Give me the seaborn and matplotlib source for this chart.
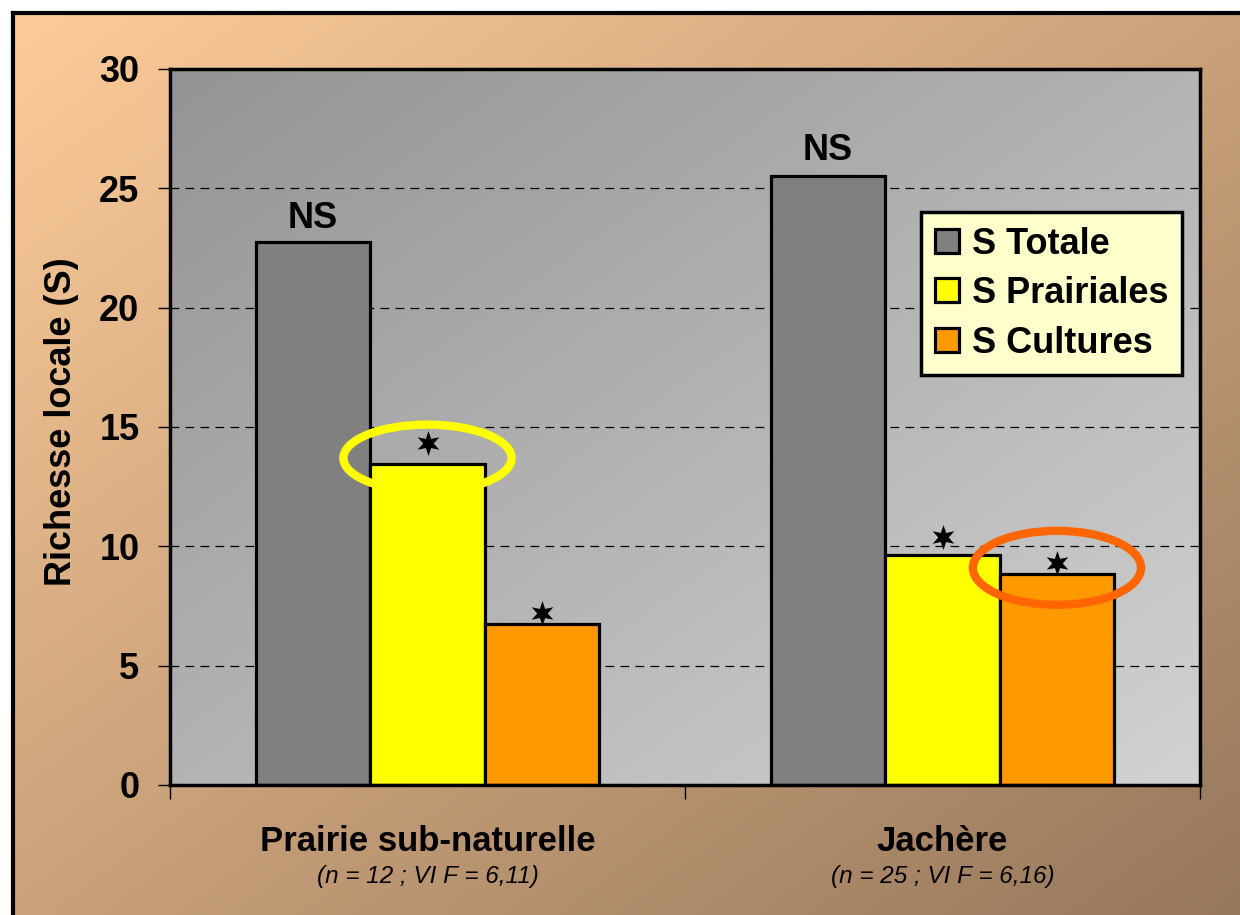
import numpy as np
import pandas as pd
import matplotlib.pyplot as plt
from matplotlib.patches import Ellipse
from matplotlib.path import Path
from matplotlib.transforms import blended_transform_factory, offset_copy
import seaborn as sns

sns.set_theme(style="white")
plt.rcParams['font.family'] = ['Liberation Sans', 'DejaVu Sans']
plt.rcParams['text.color'] = 'black'
plt.rcParams['axes.labelcolor'] = 'black'
plt.rcParams['xtick.color'] = 'black'
plt.rcParams['ytick.color'] = 'black'

# values
groups = ["Prairie sub-naturelle", "Jachère"]
group_notes = ["(n = 12 ; VI F = 6,11)", "(n = 25 ; VI F = 6,16)"]
series = ["S Totale", "S Prairiales", "S Cultures"]
s_totale = [22.75, 25.5]
s_prairiales = [13.45, 9.65]
s_cultures = [6.75, 8.85]
# significance marks above each bar ("*" = significant)
sig_totale = ["NS", "NS"]
sig_prairiales = ["*", "*"]
sig_cultures = ["*", "*"]
yticks = [0, 5, 10, 15, 20, 25, 30]

df = pd.DataFrame({
    "groupe": groups * 3,
    "serie": [s for s in series for _ in groups],
    "S": s_totale + s_prairiales + s_cultures,
})
sigs = [sig_totale, sig_prairiales, sig_cultures]

palette = {"S Totale": "#808080", "S Prairiales": "#FFFF00", "S Cultures": "#FF9900"}
# circled bars: (group index, serie, colour, ellipse height)
highlights = [(0, "S Prairiales", "#FFFF00", 2.8), (1, "S Cultures", "#FF6600", 3.1)]
# vertical offset (points) of the marks above each bar, per serie then group
mark_offsets = [[4, 6], [15, 13], [8, 8]]

# six pointed star with thin points
ang = np.pi / 2 + np.arange(12) * np.pi / 6
rad = np.where(np.arange(12) % 2 == 0, 1.0, 0.42)
star_verts = np.column_stack([rad * np.cos(ang), rad * np.sin(ang)])
star = Path(np.vstack([star_verts, star_verts[:1]]), closed=True)


def gradient(ax, c0, c1, zorder=0):
    n = 256
    xx, yy = np.meshgrid(np.linspace(0, 1, n), np.linspace(0, 1, n))
    t = (xx + yy) / 2
    c0 = np.array(c0) / 255
    c1 = np.array(c1) / 255
    img = c0 + (c1 - c0) * t[..., None]
    ax.imshow(img, extent=[0, 1, 0, 1], aspect='auto', origin='upper',
              transform=ax.transAxes, zorder=zorder, interpolation='bilinear')


W, H = 1240, 915
fig = plt.figure(figsize=(W / 100, H / 100), dpi=100)
fig.patch.set_facecolor('white')

# peach/brown background with black border (left and top visible)
bg = fig.add_axes([13 / W, 0, 1 - 13 / W, 1 - 13 / H])
gradient(bg, (253, 203, 153), (150, 120, 92))
bg.set_xlim(0, 1)
bg.set_ylim(0, 1)
bg.set_xticks([])
bg.set_yticks([])
for side in ['right', 'bottom']:
    bg.spines[side].set_visible(False)
for side in ['left', 'top']:
    bg.spines[side].set_linewidth(3)
    bg.spines[side].set_color('black')

ax = fig.add_axes([170 / W, 1 - 785 / H, 1030 / W, 716 / H])
sns.barplot(data=df, x="groupe", y="S", hue="serie", palette=palette,
            saturation=1, width=2 / 3, edgecolor='black', linewidth=2.3,
            ax=ax, zorder=2)
gradient(ax, (148, 148, 148), (210, 210, 210), zorder=0)
ax.set_xlim(-0.5, 1.5)
ax.set_ylim(0, 30)

# grid
ax.set_yticks(yticks)
ax.set_yticklabels([str(v) for v in yticks], fontsize=26, fontweight='bold')
for v in yticks[1:-1]:
    ax.axhline(v, color='black', lw=0.9, ls=(0, (7, 5)), zorder=1)
for s in ax.spines.values():
    s.set_linewidth(2.5)
    s.set_color('black')
ax.tick_params(axis='y', direction='out', length=9, width=1, pad=13, left=True)

# x ticks: labels under groups, marks at the group boundaries
ax.set_xticks([0, 1])
ax.set_xticklabels(groups, fontsize=25, fontweight='bold')
ax.tick_params(axis='x', which='major', length=0, pad=29)
ax.set_xticks([-0.5, 0.5, 1.5], minor=True)
ax.tick_params(axis='x', which='minor', direction='out', length=10, width=1, bottom=True)
trans = blended_transform_factory(ax.transData, ax.transAxes)
for i, note in enumerate(group_notes):
    ax.text(i, -0.128, note, transform=trans, ha='center', va='center',
            fontsize=17.5, fontstyle='italic')

ax.set_xlabel("")
ax.set_ylabel("Richesse locale (S)", fontsize=26, fontweight='bold')
ax.yaxis.set_label_coords(-0.088, 0.507)

# marks above bars
for k, cont in enumerate(ax.containers):
    for j, bar in enumerate(cont):
        xc = bar.get_x() + bar.get_width() / 2
        top = bar.get_height()
        lab = sigs[k][j]
        if lab == "NS":
            ax.annotate(lab, (xc, top), xytext=(0, mark_offsets[k][j]), textcoords='offset points',
                        ha='center', va='bottom', fontsize=26, fontweight='bold', zorder=5)
        else:
            tr = offset_copy(ax.transData, fig=fig, y=mark_offsets[k][j], units='points')
            ax.plot([xc], [top], marker=star, markersize=18, color='black', markeredgewidth=0,
                    transform=tr, zorder=5, clip_on=False)

# ellipses around highlighted bars
for gi, serie, col, eh in highlights:
    bar = ax.containers[series.index(serie)][gi]
    xc = bar.get_x() + bar.get_width() / 2
    ax.add_patch(Ellipse((xc, bar.get_height() + 0.25), bar.get_width() * 1.47, eh,
                         fill=False, edgecolor=col, lw=6, zorder=6))

handles, labels = ax.get_legend_handles_labels()
leg = ax.legend(handles, labels, loc='upper right', bbox_to_anchor=(0.983, 0.8),
                prop={'size': 26, 'weight': 'bold'}, facecolor='#FFFFCC', edgecolor='black',
                framealpha=1, fancybox=False, handlelength=0.65, handleheight=0.65,
                handletextpad=0.35, labelspacing=0.4, borderpad=0.4, borderaxespad=0)
leg.get_frame().set_linewidth(2.5)
leg.set_zorder(10)

fig.savefig("out.png", dpi=100)
